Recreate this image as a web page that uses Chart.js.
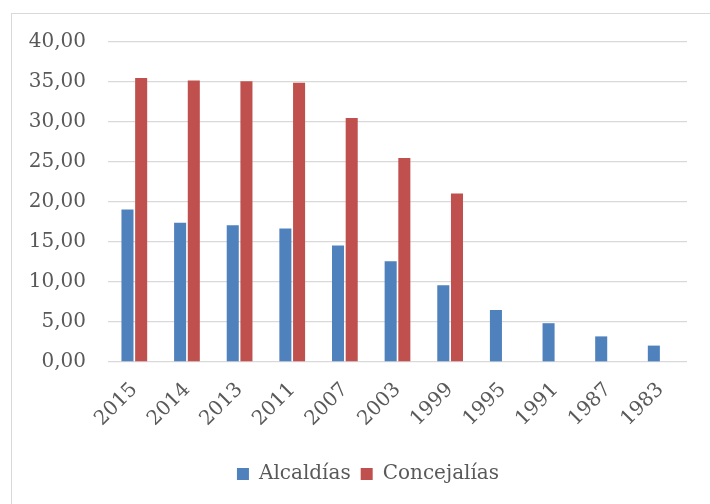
<!DOCTYPE html>
<html>
<head>
<meta charset="utf-8">
<script src="https://cdn.jsdelivr.net/npm/chart.js@4"></script>
<style>
  html, body { margin: 0; padding: 0; background: #fff; }
  #wrap { position: relative; width: 710px; height: 504px; overflow: hidden; }
  #frame { position: absolute; left: 11px; top: 13px; width: 800px; height: 600px;
           border-left: 1px solid #d9d9d9; border-top: 1px solid #d9d9d9; }
  canvas { position: absolute; left: 0; top: 0; }
</style>
</head>
<body>
<div id="wrap">
  <div id="frame"></div>
  <canvas id="c" width="710" height="504"></canvas>
</div>
<script>
const categories = ['2015','2014','2013','2011','2007','2003','1999','1995','1991','1987','1983'];
const alcaldias = [19.05, 17.4, 17.1, 16.7, 14.55, 12.6, 9.6, 6.5, 4.85, 3.2, 2.05];
const concejalias = [35.5, 35.2, 35.1, 34.9, 30.5, 25.5, 21.05, null, null, null, null];
const seriesNames = ['Alcaldías', 'Concejalías'];
const yTicks = [0, 5, 10, 15, 20, 25, 30, 35, 40];

const FONT = 'DejaVu Serif';
const TXT = '#595959';

const legendShift = {
  id: 'legendShift',
  beforeDraw(chart) {
    const lg = chart.legend;
    if (!lg || lg._shifted) return;
    lg.left += 11; lg.right += 11;
    lg._shifted = true;
    lg.adjustHitBoxes();
  }
};

new Chart(document.getElementById('c'), {
  type: 'bar',
  data: {
    labels: categories,
    datasets: [
      { label: seriesNames[0], data: alcaldias, backgroundColor: '#4F81BD',
        categoryPercentage: 0.52, barPercentage: 0.88 },
      { label: seriesNames[1], data: concejalias, backgroundColor: '#C0504D',
        categoryPercentage: 0.52, barPercentage: 0.88 }
    ]
  },
  plugins: [legendShift],
  options: {
    responsive: false,
    animation: false,
    layout: { padding: { left: 27, right: 23, top: 42, bottom: 10 } },
    plugins: {
      tooltip: { enabled: false },
      legend: {
        position: 'bottom',
        labels: { boxWidth: 12, boxHeight: 12, color: TXT,
                  font: { family: FONT, size: 20 }, padding: 10 }
      }
    },
    scales: {
      x: {
        grid: { display: false, drawTicks: false },
        border: { display: false },
        ticks: { color: TXT, font: { family: FONT, size: 20 },
                 maxRotation: 45, minRotation: 45, autoSkip: false, padding: 16 },
        afterFit: (s) => { s.height = 92; }
      },
      y: {
        min: 0, max: 40,
        afterBuildTicks: (s) => { s.ticks = yTicks.map(v => ({ value: v })); },
        grid: { color: '#d9d9d9', lineWidth: 1.3, drawTicks: false },
        border: { display: false },
        ticks: { color: TXT, font: { family: FONT, size: 20 }, padding: 22,
                 callback: (v) => Number(v).toFixed(2).replace('.', ',') },
        afterFit: (s) => { s.width = 81; }
      }
    }
  }
});
</script>
</body>
</html>
